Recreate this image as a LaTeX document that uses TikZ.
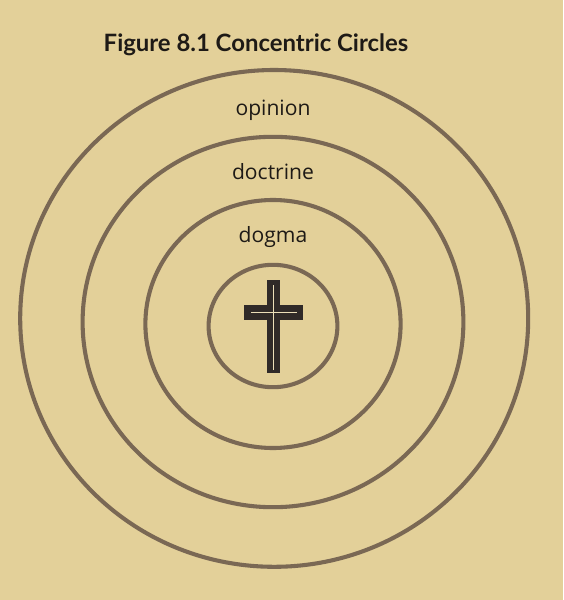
\documentclass[tikz,border=0pt]{standalone}
\usepackage{fontspec}
\setmainfont{Open Sans}
\newfontfamily\titlefont{Lato}
\usepackage{xcolor}
\usepackage{tikz}

\definecolor{paper}{RGB}{227,208,153}
\definecolor{ringbrown}{RGB}{122,104,84}
\definecolor{ink}{RGB}{30,26,22}
\definecolor{crossdark}{RGB}{48,42,40}

\begin{document}
\begin{tikzpicture}[
  ring/.style={draw=ringbrown, line width=2.9pt},
  ringtext/.style={anchor=base, text=ink, font=\fontsize{15}{18}\selectfont}
]
\fill[paper] (-6.825,-6.95) rectangle (7.25,8.05);
\useasboundingbox (-6.825,-6.95) rectangle (7.25,8.05);
% rings, outermost last
  \foreach \cx/\cy/\rx/\ry in {0/-0.1/1.61/1.53, 0/-0.05/3.19/3.1, 0/0/4.76/4.63, 0.03/0.09/6.35/6.21}
    \draw[ring] (\cx,\cy) ellipse [x radius=\rx, y radius=\ry];
% cross
  \fill[crossdark] (-0.15,1.05) rectangle (0.175,-1.275);
  \fill[crossdark] (-0.725,0.425) rectangle (0.75,0.05);
  \draw[paper!70!white, line width=0.45pt] (0.0125,0.925) -- (0.0125,-1.2);
  \draw[paper!70!white, line width=0.45pt] (-0.55,0.25) -- (0.6,0.25);
% texts
  \node[ringtext] (opinion) at (0,5.175) {opinion};
  \node[ringtext] (doctrine) at (0,3.575) {doctrine};
  \node[ringtext] (dogma) at (0,2.0) {dogma};
  \node[anchor=base, text=ink, font=\fontsize{17}{20}\selectfont\titlefont\bfseries] (title) at (-0.425,6.775) {Figure 8.1 Concentric Circles};
\end{tikzpicture}
\end{document}
